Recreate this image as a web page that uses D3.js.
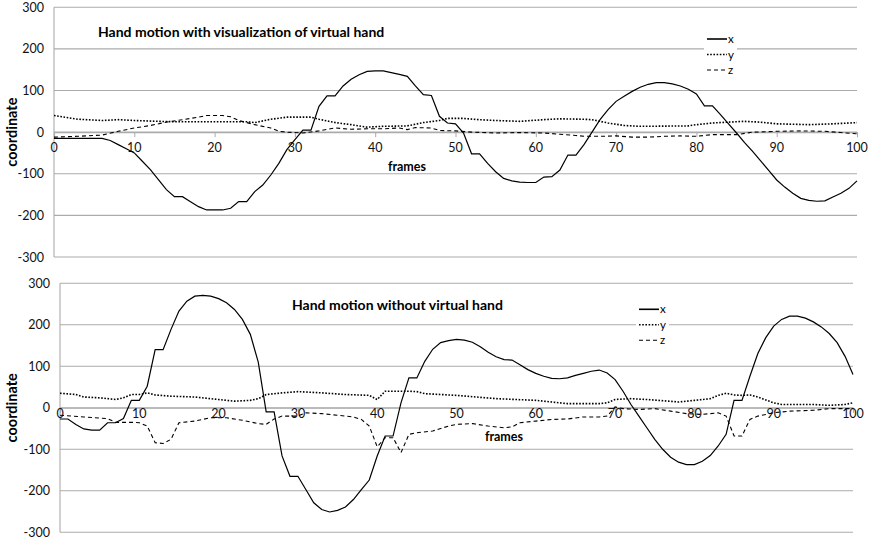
<!DOCTYPE html>
<html>
<head>
<meta charset="utf-8">
<script src="https://cdnjs.cloudflare.com/ajax/libs/d3/7.8.5/d3.min.js"></script>
<style>
  body { margin: 0; background: #fff; }
  svg { display: block; font-family: Lato, "Open Sans", sans-serif; }
</style>
</head>
<body>
<div id="chart"></div>
<script>
// frames 0..100 for the solid x series, sparse samples for y and z
var frames = d3.range(0, 101);
var xTicks = [0, 10, 20, 30, 40, 50, 60, 70, 80, 90, 100];
var yTicks = [-300, -200, -100, 0, 100, 200, 300];
var seriesNames = ["x", "y", "z"];

var topX = [-15,-15,-15,-15,-15,-15,-15,-20,-30,-40,
  -50,-70,-90,-114,-138,-155,-155,-167,-179,-187,
  -187,-187,-183,-167,-167,-143,-127,-103,-75,-42,
  -18,5,5,62,87,87,111,127,138,146,
  147,147,143,139,134,111,90,88,38,22,
  20,-2,-52,-52,-75,-95,-111,-117,-120,-121,
  -121,-108,-107,-91,-55,-55,-30,0,30,54,
  74,86,98,108,115,119,119,116,111,103,
  92,63,63,42,20,-2,-25,-46,-69,-92,
  -115,-132,-147,-159,-164,-166,-165,-156,-147,-135,-117];

var topY = [[0,40],[3,31],[6,28],[8,30],[10,28],[13,26],[15,25],[20,25],[24,25],[25,23],
  [27,31],[29,36],[32,36],[33,31],[35,23],[37,18],[39,12],[41,14],[44,15],[46,23],
  [48,28],[49,33],[51,33],[53,30],[55,28],[58,26],[61,30],[63,32],[66,31],[67,30],
  [69,22],[71,16],[73,14],[79,15],[80,18],[82,22],[84,24],[86,26],[88,24],[90,20],
  [94,18],[97,20],[100,23]];

var topZ = [[0,-12],[3,-10],[6,-7],[8,2],[10,10],[12,16],[14,24],[16,30],[18,36],[19,40],
  [21,40],[22,37],[23,28],[24,23],[25,18],[27,10],[28,2],[29,0],[31,-2],[33,3],
  [35,10],[37,7],[39,8],[41,8],[43,10],[44,6],[45,11],[47,10],[48,4],[50,3],
  [52,0],[55,-2],[58,-1],[61,-2],[63,-5],[65,-8],[66,-10],[68,-10],[70,-9],[72,-12],
  [74,-12],[76,-10],[78,-9],[80,-10],[82,-6],[85,-6],[87,0],[90,2],[93,3],[96,2],
  [98,-1],[100,-4]];

var bottomX = [-27,-27,-40,-51,-54,-54,-36,-36,-26,18,
  18,52,140,140,189,233,257,269,271,269,
  263,253,237,213,177,110,-10,-10,-116,-165,
  -165,-197,-229,-245,-251,-247,-239,-221,-197,-174,
  -116,-68,-68,12,72,72,112,141,157,162,
  165,163,158,147,134,123,116,115,104,92,
  83,76,71,70,72,78,83,88,91,84,
  68,40,8,-20,-48,-76,-100,-119,-131,-137,
  -137,-129,-115,-92,-64,18,18,76,131,169,
  197,213,221,221,216,207,195,179,157,124,80];

var bottomY = [[0,35],[2,32],[3,26],[5,24],[7,20],[8,24],[9,32],[10,32],[11,36],[12,31],
  [14,28],[17,26],[20,20],[22,16],[24,18],[25,22],[26,32],[28,36],[30,39],[33,36],
  [36,32],[39,30],[40,20],[41,40],[44,40],[45,39],[46,34],[50,30],[55,22],[60,18],
  [64,10],[68,10],[69,12],[70,20],[72,22],[74,20],[78,14],[80,18],[82,22],[83,30],
  [84,35],[85,31],[86,30],[87,31],[88,26],[90,12],[91,8],[95,8],[97,6],[99,8],[100,12]];

var bottomZ = [[0,-18],[3,-22],[6,-26],[7,-35],[9,-35],[10,-36],[11,-44],[12,-84],[13,-86],[14,-76],
  [15,-36],[17,-32],[19,-24],[21,-24],[23,-30],[25,-38],[26,-40],[27,-27],[28,-20],[30,-20],
  [31,-12],[33,-14],[35,-18],[37,-22],[38,-28],[39,-44],[40,-94],[41,-72],[42,-72],[43,-108],
  [44,-64],[45,-60],[47,-56],[49,-44],[50,-40],[52,-38],[54,-44],[56,-48],[57,-46],[58,-36],
  [60,-32],[62,-28],[64,-27],[66,-22],[68,-22],[69,-20],[70,2],[71,-2],[73,-4],[75,-2],
  [77,-8],[79,-14],[81,-16],[83,-12],[84,-20],[85,-68],[86,-68],[87,-28],[88,-20],[90,-12],
  [92,-8],[95,-6],[97,-2],[100,-2]];

var width = 870, height = 545;

var svg = d3.select("#chart").append("svg")
    .attr("width", width)
    .attr("height", height);

var dashes = { x: null, y: "1.6,1.6", z: "4,3" };
var strokeW = { x: 1.2, y: 1.6, z: 1.1 };

function drawPanel(p) {
  var x = d3.scaleLinear().domain([0, 100]).range([p.left, p.right]);
  var y = d3.scaleLinear().domain([-300, 300]).range([p.bottom, p.top]);
  var g = svg.append("g");

  // gridlines
  g.selectAll(".grid")
      .data(yTicks)
    .join("line")
      .attr("x1", p.left)
      .attr("x2", p.right)
      .attr("y1", d => y(d))
      .attr("y2", d => y(d))
      .attr("stroke", "#ababab")
      .attr("stroke-width", 1.1);

  // y axis line + labels
  g.append("line")
      .attr("x1", p.left).attr("x2", p.left)
      .attr("y1", y(300)).attr("y2", y(-300))
      .attr("stroke", "#ababab")
      .attr("stroke-width", 1.1);

  g.selectAll(".ylab")
      .data(yTicks)
    .join("text")
      .attr("x", p.left - 10)
      .attr("y", d => y(d) + 4.5)
      .attr("text-anchor", "end")
      .attr("font-size", "12.5px")
      .attr("fill", "#111")
      .text(d => d);

  // x axis at zero with ticks
  var xAxis = d3.axisBottom(x).tickValues(xTicks).tickSize(5).tickFormat("");
  var ax = g.append("g")
      .attr("transform", "translate(0," + y(0) + ")")
      .call(xAxis);
  ax.select(".domain").attr("stroke", "#ababab").attr("stroke-width", 1.1);
  ax.selectAll(".tick line").attr("stroke", "#ababab");

  g.selectAll(".xlab")
      .data(xTicks)
    .join("text")
      .attr("x", d => x(d))
      .attr("y", y(0) + p.labelDy)
      .attr("text-anchor", "middle")
      .attr("font-size", "12.5px")
      .attr("fill", "#111")
      .text(d => d);

  // series
  var line = d3.line()
      .x(d => x(d[0]))
      .y(d => y(d[1]));

  var series = [
    { key: "x", pts: frames.map((f, i) => [f, p.xs[i]]) },
    { key: "y", pts: p.ys },
    { key: "z", pts: p.zs }
  ];

  g.selectAll(".series")
      .data(series)
    .join("path")
      .attr("d", d => line(d.pts))
      .attr("fill", "none")
      .attr("stroke", "#000")
      .attr("stroke-width", d => strokeW[d.key])
      .attr("stroke-dasharray", d => dashes[d.key]);

  // titles
  g.append("text")
      .attr("x", p.titleX)
      .attr("y", p.titleY)
      .attr("font-size", "14px")
      .attr("font-weight", "bold")
      .text(p.title);

  g.append("text")
      .attr("x", p.framesX)
      .attr("y", p.framesY)
      .attr("text-anchor", "middle")
      .attr("font-size", "12.5px")
      .attr("font-weight", "bold")
      .text("frames");

  g.append("text")
      .attr("transform", "translate(" + 17 + "," + y(0) + ") rotate(-90)")
      .attr("text-anchor", "middle")
      .attr("font-size", "14.5px")
      .attr("font-weight", "bold")
      .text("coordinate");

  // legend
  var lg = g.append("g").attr("transform", "translate(" + p.legX + "," + p.legY + ")");
  lg.append("rect")
      .attr("x", -3).attr("y", -8)
      .attr("width", 33).attr("height", 46)
      .attr("fill", "#fff");
  var item = lg.selectAll(".item")
      .data(seriesNames)
    .join("g")
      .attr("transform", (d, i) => "translate(0," + i * 15.5 + ")");
  item.append("line")
      .attr("x1", 0).attr("x2", 20)
      .attr("stroke", "#000")
      .attr("stroke-width", d => d == "x" ? 1.6 : strokeW[d])
      .attr("stroke-dasharray", d => dashes[d]);
  item.append("text")
      .attr("x", 21)
      .attr("y", 4)
      .attr("font-size", "11.5px")
      .text(d => d);
}

drawPanel({
  left: 54, right: 857, top: 7.3, bottom: 257,
  xs: topX, ys: topY, zs: topZ,
  labelDy: 20,
  title: "Hand motion with visualization of virtual hand",
  titleX: 98, titleY: 37,
  framesX: 407, framesY: 171,
  legX: 707, legY: 39
});

drawPanel({
  left: 60, right: 853, top: 283.3, bottom: 532.3,
  xs: bottomX, ys: bottomY, zs: bottomZ,
  labelDy: 10,
  title: "Hand motion without virtual hand",
  titleX: 292, titleY: 310,
  framesX: 504, framesY: 441,
  legX: 639, legY: 309.3
});
</script>
</body>
</html>
